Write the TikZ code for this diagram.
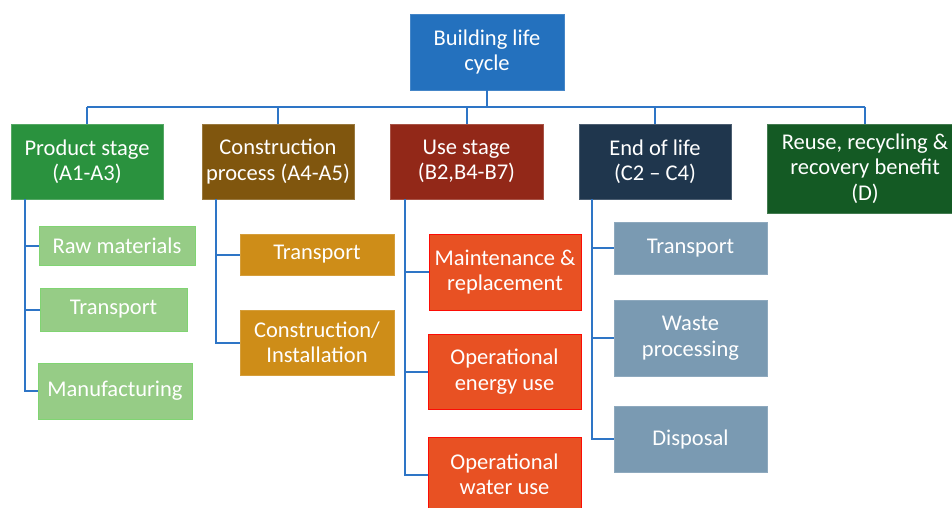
\documentclass[tikz,border=0pt]{standalone}
\usepackage{fontspec}
\setmainfont{Carlito}
\definecolor{rootblue}{RGB}{36,113,190}
\definecolor{linkblue}{RGB}{46,117,198}
\definecolor{prodgreen}{RGB}{42,146,62}
\definecolor{consbrown}{RGB}{128,86,14}
\definecolor{usered}{RGB}{146,40,24}
\definecolor{eolnavy}{RGB}{31,54,77}
\definecolor{reusegreen}{RGB}{20,90,36}
\definecolor{lightgreen}{RGB}{150,204,134}
\definecolor{gold}{RGB}{206,141,24}
\definecolor{orangered}{RGB}{232,81,35}
\definecolor{steel}{RGB}{122,154,178}
\tikzset{
  box/.style={rectangle, inner sep=0pt, align=center, text=white,
    line width=0.8pt,
    font=\fontsize{22.5}{25.5}\selectfont},
  conn/.style={draw=linkblue, line width=2pt},
}
\begin{document}
\begin{tikzpicture}[x=1pt,y=-1pt]
\useasboundingbox (0,0) rectangle (952,507);
\clip (0,0) rectangle (952,507);
\fill[white] (0,0) rectangle (952,507);

% root
\node[box, fill=rootblue, draw=rootblue!85!white, minimum width=154pt, minimum height=76pt] (root) at (487,52) {Building life\\cycle};

% stages
\node[box, fill=prodgreen, draw=prodgreen!80!white, minimum width=152pt, minimum height=75pt] (prod) at (87,161.5) {Product stage\\(A1-A3)};
\node[box, fill=consbrown, draw=consbrown!80!white, minimum width=152pt, minimum height=75pt] (cons) at (278,161.5) {Construction\\process (A4-A5)};
\node[box, fill=usered, draw=usered!80!white, minimum width=153pt, minimum height=75pt] (use) at (466.5,161.5) {Use stage\\(B2,B4-B7)};
\node[box, fill=eolnavy, draw=eolnavy!80!white, minimum width=152pt, minimum height=75pt] (eol) at (655,161.5) {End of life\\(C2 – C4)};
\node[box, fill=reusegreen, draw=reusegreen!80!white, minimum width=196pt, minimum height=89pt] (reuse) at (865,168.5) {Reuse, recycling \&\\recovery benefit\\(D)};

% product stage modules
\node[box, fill=lightgreen, draw=lightgreen!85!green, minimum width=156pt, minimum height=39pt] (raw) at (117,245.5) {Raw materials};
\node[box, fill=lightgreen, draw=lightgreen!85!green, minimum width=147pt, minimum height=43pt] (ptrans) at (113.5,309.5) {Transport};
\node[box, fill=lightgreen, draw=lightgreen!85!green, minimum width=154pt, minimum height=56pt] (manu) at (115,391) {Manufacturing};

% construction process modules
\node[box, fill=gold, draw=gold!85!white, minimum width=154pt, minimum height=41pt] (ctrans) at (317,254.5) {Transport};
\node[box, fill=gold, draw=gold!85!white, minimum width=154pt, minimum height=65pt] (cinst) at (317,342.5) {Construction/\\Installation};

% use stage modules
\node[box, fill=orangered, draw=red!85!orangered, minimum width=152pt, minimum height=76pt] (maint) at (505,272) {Maintenance \&\\replacement};
\node[box, fill=orangered, draw=red!85!orangered, minimum width=153pt, minimum height=75pt] (energy) at (504.5,371.5) {Operational\\energy use};
\node[box, fill=orangered, draw=red!85!orangered, minimum width=153pt, minimum height=75pt] (water) at (504.5,474.5) {Operational\\water use};

% end of life modules
\node[box, fill=steel, draw=steel!85!white, minimum width=153pt, minimum height=52pt] (etrans) at (690.5,248) {Transport};
\node[box, fill=steel, draw=steel!85!white, minimum width=153pt, minimum height=76pt] (waste) at (690.5,338) {Waste\\processing};
\node[box, fill=steel, draw=steel!85!white, minimum width=153pt, minimum height=66pt] (disp) at (690.5,439) {Disposal};

% top-level bus
\coordinate (bus) at (0,106.5);
\draw[conn] (root.south) -- (root.south |- bus);
\draw[conn] (prod.north |- bus) -- (reuse.north |- bus);
\foreach \s in {prod,cons,use,eol,reuse}
  \draw[conn] (\s.north |- bus) -- (\s.north);

% module trunks
\coordinate (ps) at ([xshift=14pt]prod.south west);
\coordinate (cs) at ([xshift=14pt]cons.south west);
\coordinate (us) at ([xshift=15pt]use.south west);
\coordinate (es) at ([xshift=13pt]eol.south west);

\draw[conn] (ps) |- (manu.west);
\draw[conn] (raw.west -| ps) -- (raw.west);
\draw[conn] (ptrans.west -| ps) -- (ptrans.west);

\draw[conn] (cs) |- (cinst.west);
\draw[conn] (ctrans.west -| cs) -- (ctrans.west);

\draw[conn] (us) |- (water.west);
\draw[conn] (maint.west -| us) -- (maint.west);
\draw[conn] (energy.west -| us) -- (energy.west);

\draw[conn] (es) |- (disp.west);
\draw[conn] (etrans.west -| es) -- (etrans.west);
\draw[conn] (waste.west -| es) -- (waste.west);
\end{tikzpicture}
\end{document}
